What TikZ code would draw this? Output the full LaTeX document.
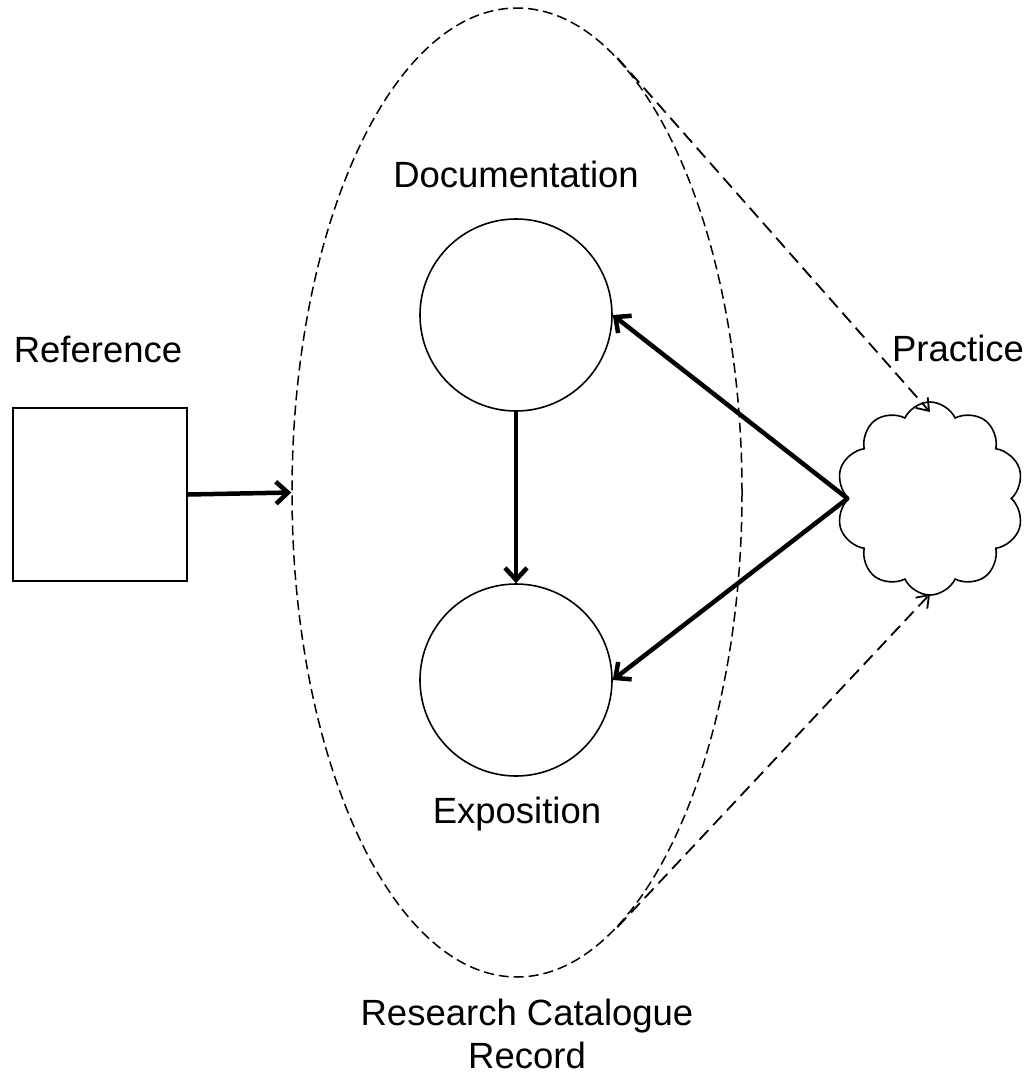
\documentclass[tikz,border=0pt]{standalone}
\usepackage{fontspec}
\setmainfont{Liberation Sans}
\usetikzlibrary{shapes.geometric,shapes.symbols,arrows.meta}
\begin{document}
\begin{tikzpicture}[x=1pt,y=-1pt,
  lbl/.style={font=\fontsize{36.5}{43}\selectfont, inner sep=0pt},
  circ/.style={circle, draw, line width=1.6pt, minimum size=192pt, inner sep=0pt},
  thickarrow/.style={line width=4.5pt, -{Straight Barb[length=12pt,width=22pt]}},
  dasharrow/.style={line width=1.8pt, dash pattern=on 13pt off 7pt, -{Straight Barb[length=11pt,width=16pt]}},
  rcell/.style={ellipse, draw, line width=1.5pt, dash pattern=on 10pt off 5pt, minimum width=450pt, minimum height=969pt, inner sep=0pt}
]
\useasboundingbox (0,0) rectangle (1025,1077);
% research catalogue ellipse
\node[rcell] (rc) at (517,492.5) {};
% circles
\node[circ] (doc) at (516,315) {};
\node[circ] (exp) at (516,680) {};
% reference square
\node[draw, line width=1.6pt, minimum width=174pt, minimum height=173pt, inner sep=0pt] (ref) at (100,494.5) {};
% practice cloud
\node[cloud, draw, line width=1.6pt, cloud puffs=10, cloud puff arc=130, aspect=1, minimum width=188pt, minimum height=193pt, inner sep=0pt] (cl) at (930,498.5) {};
% labels
\node[lbl, anchor=base] (lref) at (98,362) {Reference};
\node[lbl, anchor=base] (ldoc) at (516,187) {Documentation};
\node[lbl, anchor=base] (lpra) at (958,361) {Practice};
\node[lbl, anchor=base] (lexp) at (517,823) {Exposition};
\node[lbl, align=center, anchor=base] (lrc) at (527,1068) {Research Catalogue\\Record};
% coordinates
\coordinate (ptop) at (930,412);
\coordinate (pbot) at (930,594);
% connectors
\draw[thickarrow] (ref.east) -- (rc.west);
\draw[thickarrow] (doc.south) -- (exp.north);
\draw[thickarrow] (cl.west) -- (doc.east);
\draw[thickarrow] (cl.west) -- (exp.east);
\draw[dasharrow] (rc.77.5) -- (ptop);
\draw[dasharrow] (rc.-77.5) -- (pbot);
\end{tikzpicture}
\end{document}
